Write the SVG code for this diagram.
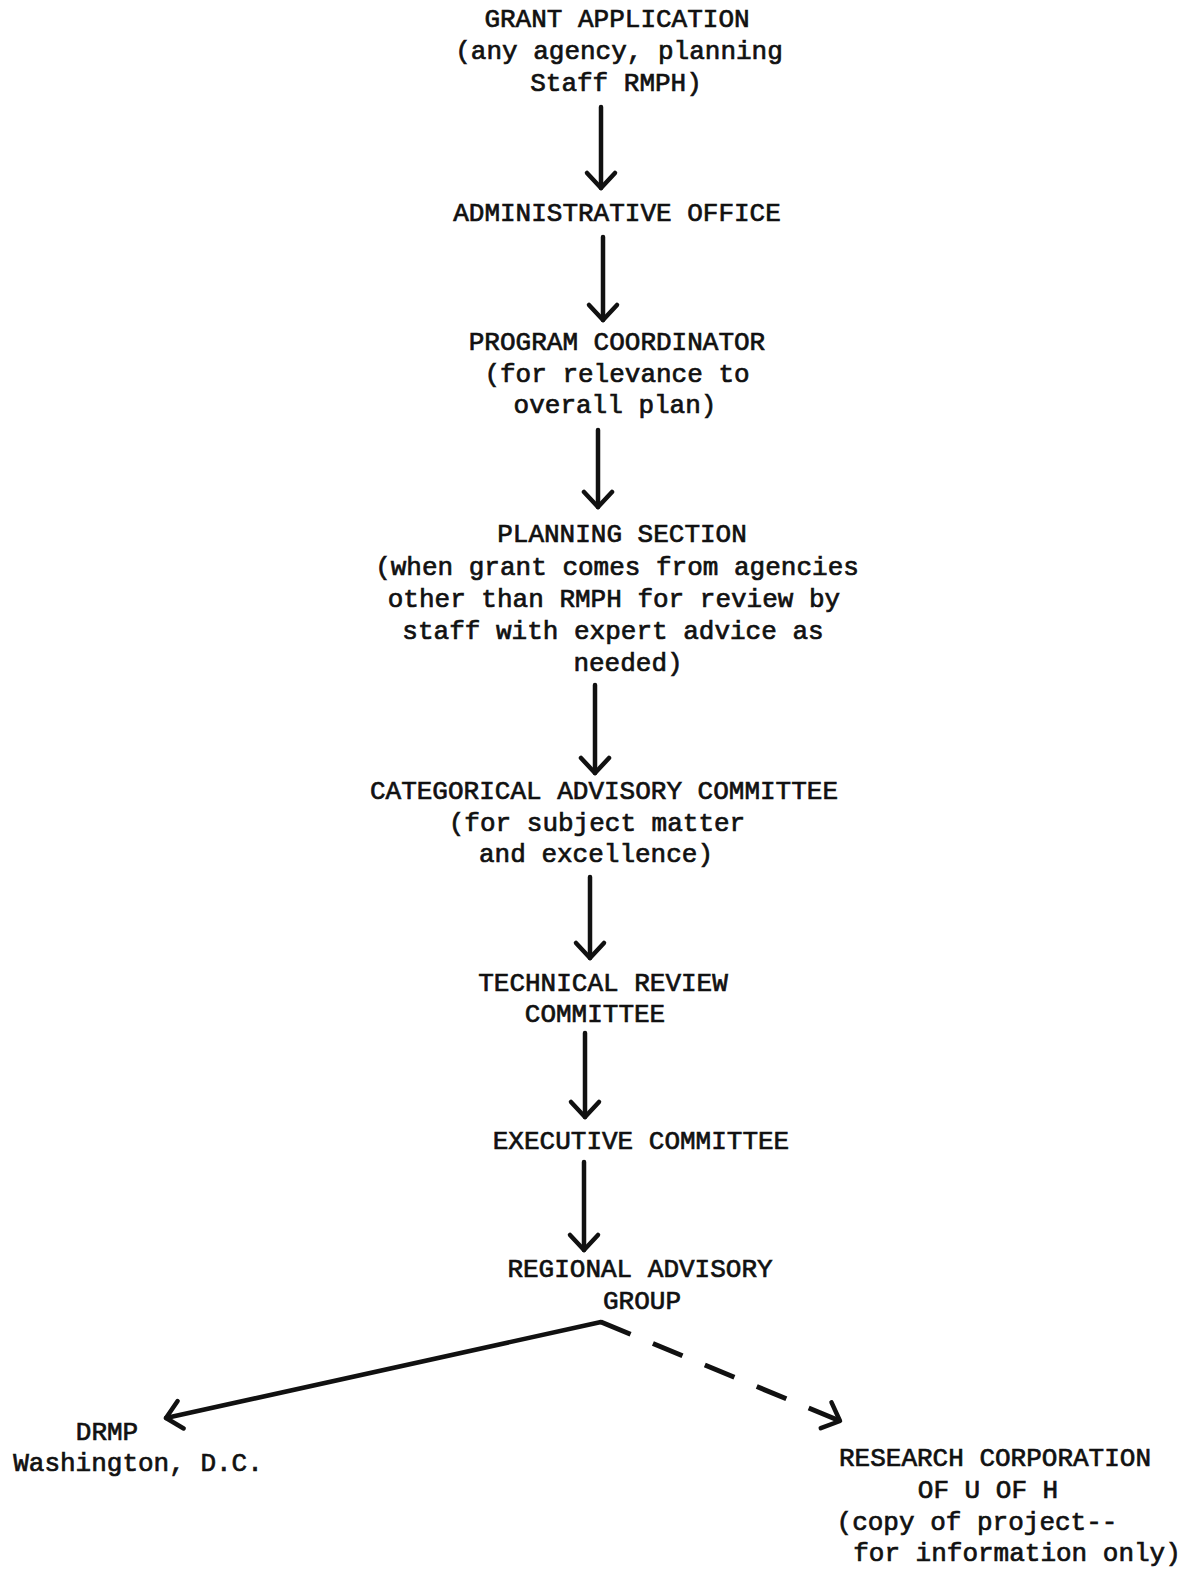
<svg xmlns="http://www.w3.org/2000/svg" width="1188" height="1572" viewBox="0 0 1188 1572">
  <style>
    text { font-family: "Liberation Mono", "Courier New", monospace; font-size: 26px; fill: #111; stroke: #111; stroke-width: 0.7px; text-anchor: middle; }
    .flow { stroke: #111; stroke-width: 4.5; fill: none; stroke-linecap: round; }
    .dash { stroke-dasharray: 32 24.2; stroke-linecap: butt; stroke-width: 5; }
  </style>
  <defs>
    <marker id="chevron" viewBox="0 0 20 32" refX="18" refY="16" markerWidth="20" markerHeight="32" markerUnits="userSpaceOnUse" orient="auto" overflow="visible">
      <path d="M3,2 L18,16 L3,30" fill="none" stroke="#111" stroke-width="4.5" stroke-linecap="round" stroke-linejoin="round"/>
    </marker>
  </defs>

  <rect width="1188" height="1572" fill="#fff"/>

  <g id="connectors">
    <line class="flow" x1="601" y1="107" x2="601" y2="188" marker-end="url(#chevron)"/>
    <line class="flow" x1="603" y1="237" x2="603" y2="320" marker-end="url(#chevron)"/>
    <line class="flow" x1="598" y1="430" x2="598" y2="507" marker-end="url(#chevron)"/>
    <line class="flow" x1="595" y1="685" x2="595" y2="773" marker-end="url(#chevron)"/>
    <line class="flow" x1="590" y1="877" x2="590" y2="958" marker-end="url(#chevron)"/>
    <line class="flow" x1="585" y1="1033" x2="585" y2="1117" marker-end="url(#chevron)"/>
    <line class="flow" x1="584" y1="1162" x2="584" y2="1250" marker-end="url(#chevron)"/>
    <!-- branch to DRMP (solid) and to Research Corporation (dashed) -->
    <line class="flow" x1="601" y1="1322" x2="166" y2="1418" marker-end="url(#chevron)"/>
    <line class="flow dash" x1="601" y1="1322" x2="840" y2="1421" marker-end="url(#chevron)"/>
  </g>

  <g id="grant-application">
    <text x="617" y="27">GRANT APPLICATION</text>
    <text x="619" y="59">(any agency, planning</text>
    <text x="616" y="91">Staff RMPH)</text>
  </g>

  <g id="administrative-office">
    <text x="617" y="221">ADMINISTRATIVE OFFICE</text>
  </g>

  <g id="program-coordinator">
    <text x="617" y="350">PROGRAM COORDINATOR</text>
    <text x="617" y="382">(for relevance to</text>
    <text x="615" y="413">overall plan)</text>
  </g>

  <g id="planning-section">
    <text x="622" y="542">PLANNING SECTION</text>
    <text x="617" y="575">(when grant comes from agencies</text>
    <text x="614" y="607">other than RMPH for review by</text>
    <text x="613" y="639">staff with expert advice as</text>
    <text x="628" y="671">needed)</text>
  </g>

  <g id="categorical-advisory-committee">
    <text x="604" y="799">CATEGORICAL ADVISORY COMMITTEE</text>
    <text x="597" y="831">(for subject matter</text>
    <text x="596" y="862">and excellence)</text>
  </g>

  <g id="technical-review-committee">
    <text x="603" y="991">TECHNICAL REVIEW</text>
    <text x="595" y="1022">COMMITTEE</text>
  </g>

  <g id="executive-committee">
    <text x="641" y="1149">EXECUTIVE COMMITTEE</text>
  </g>

  <g id="regional-advisory-group">
    <text x="640" y="1277">REGIONAL ADVISORY</text>
    <text x="642" y="1309">GROUP</text>
  </g>

  <g id="drmp">
    <text x="107" y="1440">DRMP</text>
    <text x="138" y="1471">Washington, D.C.</text>
  </g>

  <g id="research-corporation">
    <text x="995" y="1466">RESEARCH CORPORATION</text>
    <text x="988" y="1498">OF U OF H</text>
    <text x="977" y="1530">(copy of project--</text>
    <text x="1017" y="1561">for information only)</text>
  </g>
</svg>
